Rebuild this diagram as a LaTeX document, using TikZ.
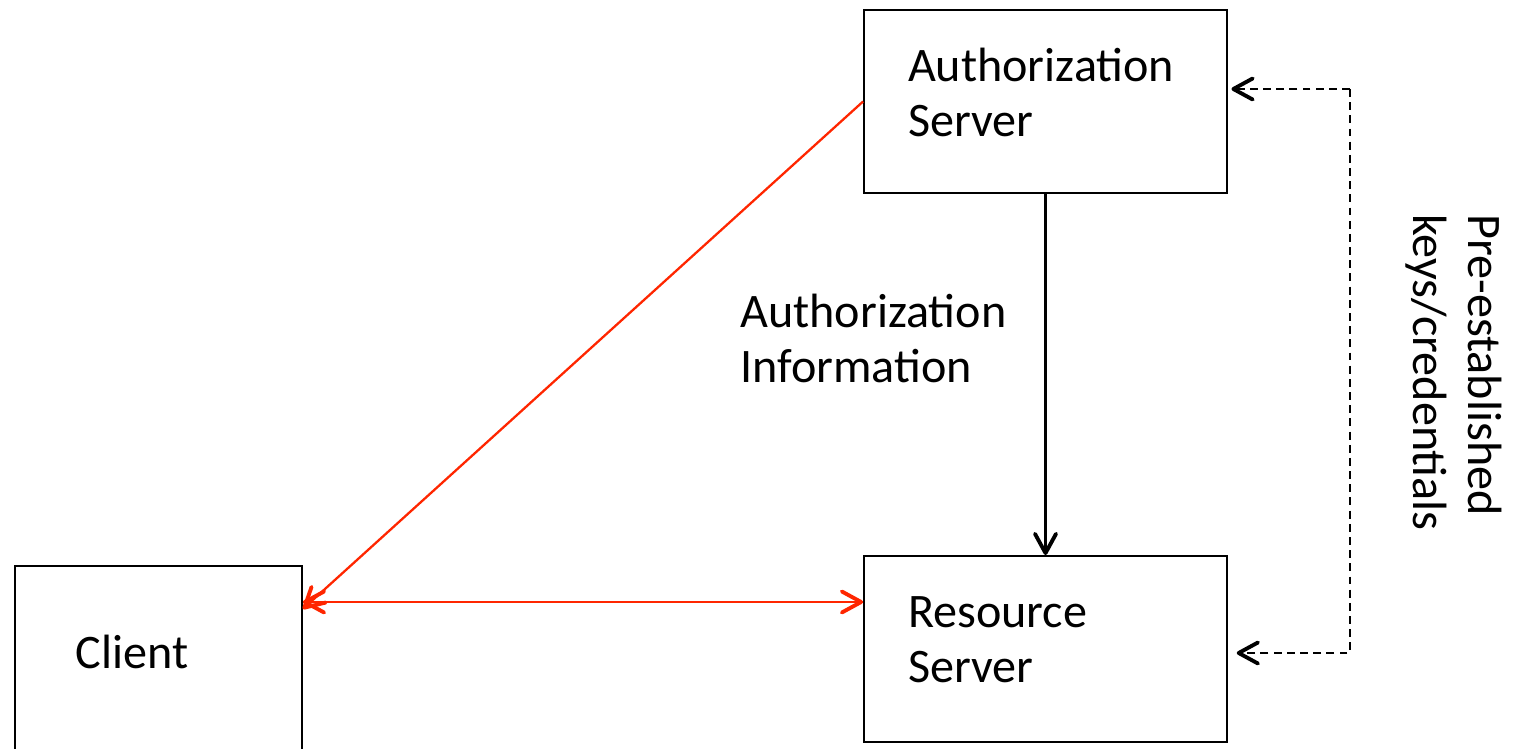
\documentclass[tikz,border=0pt]{standalone}
\usepackage{fontspec}
\setmainfont{Carlito}
\usetikzlibrary{arrows.meta}
\definecolor{flowred}{RGB}{255,38,0}

\begin{document}
\begin{tikzpicture}[x=.02cm, y=-.02cm,
		box/.style={draw, line width=1.1pt, align=left, inner ysep=0pt, text depth=1.46cm, font=\fontsize{27.4}{31.3}\selectfont},
		txt/.style={align=left, inner sep=0pt, font=\fontsize{27.4}{31.3}\selectfont},
		tip/.style={-{Straight Barb[length=11pt, width=12pt, line width'=2.2pt, round]}}]
	\useasboundingbox (0,0) rectangle (1513,749);
	% the three parties
	\node[box, inner xsep=.88cm, text width=5.5cm, minimum height=3.66cm] (auth) at (1045.5,101.5) {Authorization\\Server};
	\node[box, inner xsep=.88cm, text width=5.5cm, minimum height=3.72cm] (res) at (1045.5,649) {Resource\\Server};
	\node[box, inner xsep=1.22cm, text width=3.3cm, text depth=.45cm, minimum height=3.9cm, anchor=north west] (client) at (14,565) {Client};
	% labels
	\node[txt, anchor=north west] (info) at (740,294) {Authorization\\Information};
	\node[txt, anchor=north west, rotate=-90] (keys) at (1502,214) {Pre-established\\keys/credentials};
	% red flows
	\coordinate (cl1) at ([yshift=-.88cm]client.north east);
	\coordinate (cl2) at ([yshift=-.74cm]client.north east);
	\draw[flowred, line width=1.3pt, tip] (auth.west) -- (cl1);
	\draw[flowred, line width=1.3pt, tip] (cl2) -- (res.west |- cl2);
	\draw[flowred, line width=1.3pt, tip] (res.west |- cl2) -- (cl2);
	% token info from AS to RS
	\draw[line width=1.3pt, tip] (auth.south) -- (res.north);
	% shared keys
	\coordinate (k1) at (1350,89);
	\coordinate (k2) at (1350,653);
	\draw[line width=.9pt, dash pattern=on 4.5pt off 3pt, tip] (k1) -- ([xshift=2pt]auth.east |- k1);
	\draw[line width=.9pt, dash pattern=on 4.5pt off 3pt, tip] (k1) -- (k2) -- ([xshift=5pt]res.east |- k2);
\end{tikzpicture}
\end{document}
